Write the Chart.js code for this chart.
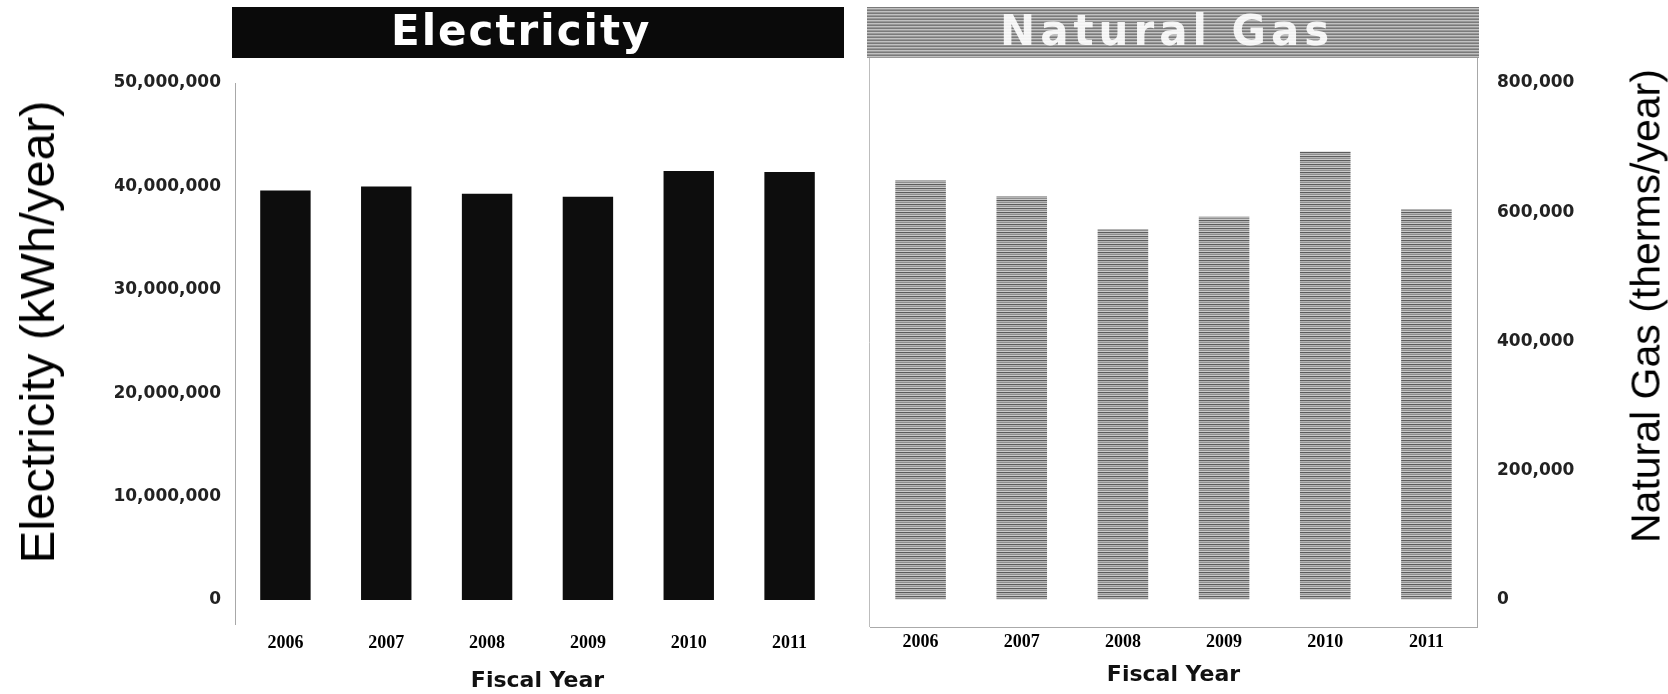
<!DOCTYPE html>
<html>
<head>
<meta charset="utf-8">
<script src="https://cdn.jsdelivr.net/npm/chart.js@4.4.1/dist/chart.umd.min.js"></script>
<style>
  html, body { margin: 0; padding: 0; background: #fff; }
  #page { position: relative; width: 1668px; height: 694px; overflow: hidden; background: #fff; }
  canvas { position: absolute; top: 0; }
  #elecCanvas { left: 0; }
  #gasCanvas { left: 858px; }
  .header {
    position: absolute; top: 7px; height: 51px; width: 612px;
    font-family: "DejaVu Sans", sans-serif; font-weight: bold; font-size: 42px;
    color: #fff; white-space: nowrap;
  }
  .header span { position: absolute; top: 3px; line-height: 42px; }
  #elecHeader { left: 232px; background: #0a0a0a; }
  #elecHeader span { left: 159px; letter-spacing: 2px; }
  #gasHeader {
    left: 867px;
    background: repeating-linear-gradient(180deg, #7a7a7a 0px, #7a7a7a 1px, #c2c2c2 1px, #c2c2c2 2px, #999 2px, #999 3px);
  }
  #gasHeader span { left: 133px; letter-spacing: 5px; color: rgba(255,255,255,0.9); }
  .ytitle {
    position: absolute; white-space: nowrap; color: #000;
    font-family: "Liberation Sans", Arial, sans-serif;
    transform: translate(-50%, -50%) rotate(-90deg);
  }
  #elecTitle { left: 37px; top: 332px; font-size: 49px; }
  #gasTitle { left: 1646px; top: 306px; font-size: 41px; }
</style>
</head>
<body>
<div id="page">
  <canvas id="elecCanvas" width="860" height="694"></canvas>
  <canvas id="gasCanvas" width="810" height="694"></canvas>
  <div class="header" id="elecHeader"><span>Electricity</span></div>
  <div class="header" id="gasHeader"><span>Natural Gas</span></div>
  <div class="ytitle" id="elecTitle">Electricity (kWh/year)</div>
  <div class="ytitle" id="gasTitle">Natural Gas (therms/year)</div>
</div>
<script>
// ---- data ----
const fiscalYears = ['2006', '2007', '2008', '2009', '2010', '2011'];
const electricityKWh = [39600000, 40000000, 39300000, 39000000, 41500000, 41400000];
const naturalGasTherms = [649000, 624000, 574000, 593000, 694000, 605000];
const electricityTicks = [0, 10000000, 20000000, 30000000, 40000000, 50000000];
const gasTicks = [0, 200000, 400000, 600000, 800000];

const tickFont = { family: '"DejaVu Sans", sans-serif', size: 17, weight: 'bold' };
const yearFont = { family: '"Liberation Serif", serif', size: 18, weight: 'bold' };
const axisTitleFont = { family: '"DejaVu Sans", sans-serif', size: 22, weight: 'bold' };

// scanline texture of the gas bars
function stripePattern() {
    const c = document.createElement('canvas');
    c.width = 4; c.height = 4;
    const g = c.getContext('2d');
    ['#5c5c5c', '#b4b4b4', '#8e8e8e', '#cacaca'].forEach((col, i) => {
        g.fillStyle = col;
        g.fillRect(0, i, 4, 1);
    });
    return g.createPattern(c, 'repeat');
}

const fmt = v => Number(v).toLocaleString('en-US');

// solid line on the left edge of the gas panel
const leftEdgeLine = {
    id: 'leftEdgeLine',
    afterDraw(chart) {
        const { ctx, chartArea } = chart;
        ctx.save();
        ctx.strokeStyle = '#bdbdbd';
        ctx.lineWidth = 1;
        ctx.beginPath();
        ctx.moveTo(chartArea.left - 0.5, chartArea.top);
        ctx.lineTo(chartArea.left - 0.5, chartArea.bottom);
        ctx.stroke();
        ctx.restore();
    }
};

function baseOptions() {
    return {
        responsive: false,
        animation: false,
        plugins: { legend: { display: false }, tooltip: { enabled: false } }
    };
}

// =============================
// ELECTRICITY
// =============================
new Chart(document.getElementById('elecCanvas'), {
    type: 'bar',
    data: {
        labels: fiscalYears,
        datasets: [{
            data: electricityKWh,
            backgroundColor: '#0d0d0d',
            barPercentage: 0.5,
            categoryPercentage: 1
        }]
    },
    options: {
        ...baseOptions(),
        layout: { padding: { top: 83, left: 115, right: 20, bottom: 0 } },
        scales: {
            x: {
                grid: { display: false, drawTicks: false },
                border: { display: false },
                ticks: { font: yearFont, color: '#000', padding: 9, maxRotation: 0 },
                title: { display: true, text: 'Fiscal Year', font: axisTitleFont, color: '#111', padding: 0 },
                afterFit: s => { s.height = 70; }
            },
            y: {
                min: -2320000,
                max: 50000000,
                grid: { display: false, drawTicks: false },
                border: { display: true, color: '#a8a8a8', dash: [2, 3] },
                afterBuildTicks: s => { s.ticks = electricityTicks.map(v => ({ value: v })); },
                ticks: { font: tickFont, color: '#222', padding: 14, callback: fmt },
                afterFit: s => { s.width = 120; }
            }
        }
    }
});

// =============================
// NATURAL GAS
// =============================
new Chart(document.getElementById('gasCanvas'), {
    type: 'bar',
    data: {
        labels: fiscalYears,
        datasets: [{
            data: naturalGasTherms,
            backgroundColor: stripePattern(),
            barPercentage: 0.5,
            categoryPercentage: 1
        }]
    },
    options: {
        ...baseOptions(),
        layout: { padding: { top: 58, left: 12, right: 0, bottom: 0 } },
        scales: {
            x: {
                grid: { display: false, drawTicks: false },
                border: { display: true, color: '#aaaaaa', dash: [1, 4] },
                ticks: { font: yearFont, color: '#000', padding: 5, maxRotation: 0 },
                title: { display: true, text: 'Fiscal Year', font: axisTitleFont, color: '#111', padding: { top: 0, bottom: 6 } },
                afterFit: s => { s.height = 67; }
            },
            y: {
                position: 'right',
                min: -42600,
                max: 838700,
                grid: { display: false, drawTicks: false },
                border: { display: true, color: '#a8a8a8', dash: [2, 3] },
                afterBuildTicks: s => { s.ticks = gasTicks.map(v => ({ value: v })); },
                ticks: { font: tickFont, color: '#222', padding: 20, callback: fmt },
                afterFit: s => { s.width = 191; }
            }
        }
    },
    plugins: [leftEdgeLine]
});
</script>
</body>
</html>
